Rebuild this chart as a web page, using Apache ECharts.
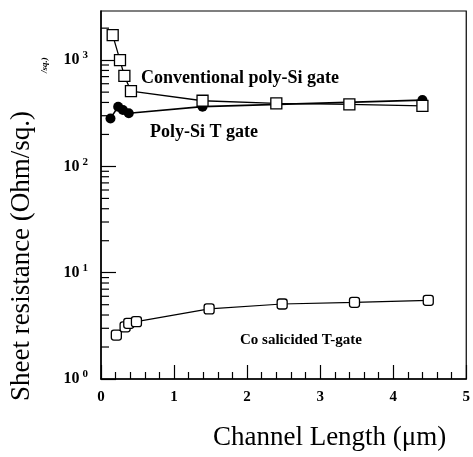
<!DOCTYPE html>
<html>
<head>
<meta charset="utf-8">
<script src="https://cdn.jsdelivr.net/npm/echarts@6/dist/echarts.min.js"></script>
<style>
  html, body { margin: 0; padding: 0; background: #fff; }
  #chart { width: 473px; height: 457px; }
</style>
</head>
<body>
<div id="chart"></div>
<script>
// channel length (um) and sheet resistance (ohm/sq)
var convX = [0.16, 0.26, 0.32, 0.41, 1.39, 2.40, 3.40, 4.40];
var convY = [1720, 1000, 710, 512, 415, 392, 384, 372];

var tgateX = [0.13, 0.235, 0.30, 0.38, 1.39, 4.40];
var tgateY = [283, 365, 339, 316, 365, 421];

var coX = [0.21, 0.33, 0.38, 0.485, 1.48, 2.48, 3.47, 4.48];
var coY = [2.59, 3.10, 3.34, 3.46, 4.56, 5.08, 5.27, 5.50];

// minor ticks of the log axis
var minorY = [2, 3, 4, 5, 6, 7, 8, 9, 20, 30, 40, 50, 60, 70, 80, 90,
              200, 300, 400, 500, 600, 700, 800, 900, 2000];

var serif = '"Liberation Serif", "DejaVu Serif", serif';

function pairs(xs, ys) {
  var out = [];
  for (var i = 0; i < xs.length; i++) out.push([xs[i], ys[i]]);
  return out;
}

var chart = echarts.init(document.getElementById('chart'));

var option = {
  backgroundColor: '#fff',
  animation: false,
  grid: {
    left: 101, right: 5, top: 11, bottom: 78,
    show: true, borderColor: '#000', borderWidth: 1.2
  },
  xAxis: {
    type: 'value',
    min: 0, max: 5, interval: 1,
    name: 'Channel Length (\u03bcm)',
    nameLocation: 'middle',
    nameGap: 45,
    nameTextStyle: { fontFamily: serif, fontSize: 27, color: '#000', padding: [0, 0, 0, 92] },
    axisLine: { lineStyle: { color: '#000', width: 1.5 } },
    axisTick: { inside: true, length: 14, lineStyle: { color: '#000', width: 1.2 } },
    minorTick: { show: true, splitNumber: 5, length: 7, lineStyle: { color: '#000', width: 1.2 } },
    axisLabel: { fontFamily: serif, fontWeight: 'bold', fontSize: 15, color: '#000', margin: 11 },
    splitLine: { show: false }
  },
  yAxis: {
    type: 'log',
    min: 1, max: 2900,
    name: 'Sheet resistance (Ohm/sq.)',
    nameLocation: 'middle',
    nameGap: 66,
    nameTextStyle: { fontFamily: serif, fontSize: 27, color: '#000', padding: [0, 122, 0, 0] },
    axisLine: { lineStyle: { color: '#000', width: 1.5 } },
    axisTick: { inside: true, length: 15, lineStyle: { color: '#000', width: 1.2 } },
    axisLabel: {
      margin: 13,
      showMaxLabel: false,
      formatter: function (v) {
        var e = Math.round(Math.log(v) / Math.LN10);
        return '{b|10}{s|' + e + '}';
      },
      rich: {
        b: { fontFamily: serif, fontWeight: 'bold', fontSize: 16, color: '#000' },
        s: { fontFamily: serif, fontWeight: 'bold', fontSize: 11, color: '#000', padding: [0, 0, 9, 3] }
      }
    },
    splitLine: { show: false }
  },
  graphic: [
    { type: 'text', x: 141, y: 78,
      style: { text: 'Conventional poly-Si gate', font: 'bold 18px ' + serif, fill: '#000', verticalAlign: 'middle' } },
    { type: 'text', x: 150, y: 132,
      style: { text: 'Poly-Si T gate', font: 'bold 18px ' + serif, fill: '#000', verticalAlign: 'middle' } },
    { type: 'text', x: 240, y: 340,
      style: { text: 'Co salicided T-gate', font: 'bold 15px ' + serif, fill: '#000', verticalAlign: 'middle' } },
    { type: 'text', x: 40, y: 73, rotation: Math.PI / 2,
      style: { text: '/sq.)', font: 'italic bold 9px ' + serif, fill: '#000' } }
  ],
  series: [
    {
      name: 'minor', type: 'custom', silent: true, z: 1,
      data: minorY.map(function (v) { return [0, v]; }),
      renderItem: function (params, api) {
        var p = api.coord([0, api.value(1)]);
        return {
          type: 'line',
          shape: { x1: p[0], y1: p[1], x2: p[0] + 8, y2: p[1] },
          style: { stroke: '#000', lineWidth: 1.2 }
        };
      }
    },
    {
      name: 'Poly-Si T gate', type: 'line', z: 3,
      data: pairs(tgateX, tgateY),
      symbol: 'circle', symbolSize: 10,
      lineStyle: { color: '#000', width: 1.6 },
      itemStyle: { color: '#000' }
    },
    {
      name: 'Conventional poly-Si gate', type: 'line', z: 4,
      data: pairs(convX, convY),
      symbol: 'rect', symbolSize: 11,
      lineStyle: { color: '#000', width: 1.3 },
      itemStyle: { color: '#fff', borderColor: '#000', borderWidth: 1.3 }
    },
    {
      name: 'Co salicided T-gate', type: 'line', z: 4,
      data: pairs(coX, coY),
      symbol: 'roundRect', symbolSize: 10,
      lineStyle: { color: '#000', width: 1.2 },
      itemStyle: { color: '#fff', borderColor: '#000', borderWidth: 1.3 }
    }
  ]
};

chart.setOption(option);
</script>
</body>
</html>
